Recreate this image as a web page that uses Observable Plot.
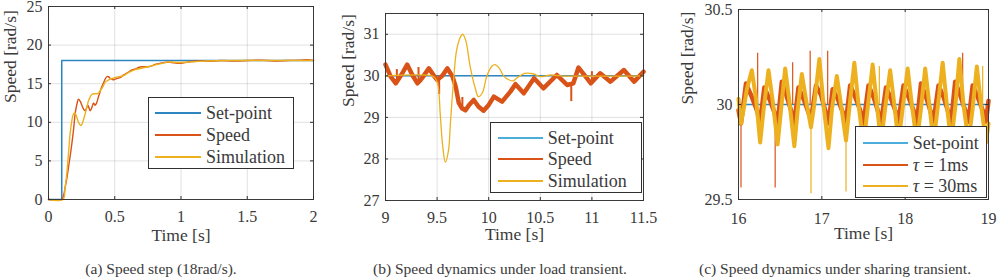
<!DOCTYPE html>
<html>
<head>
<meta charset="utf-8">
<script src="https://cdn.jsdelivr.net/npm/d3@7"></script>
<script src="https://cdn.jsdelivr.net/npm/@observablehq/plot@0.6"></script>
<style>
  html, body { margin: 0; padding: 0; background: #fff; }
  #fig { position: relative; width: 1002px; height: 278px; overflow: hidden;
         font-family: "Liberation Serif", "Times New Roman", serif; font-weight: normal; color: #3a3a3a; }
  .panel { position: absolute; top: 0; }
  .legend { position: absolute; background: #fff; border: 1px solid #303030; box-sizing: border-box; font-size: 18px; }
  .legend .row { position: absolute; left: 0; right: 0; height: 22px; }
  .legend .sw { position: absolute; height: 1.5px; top: 10px; }
  .legend .lb { position: absolute; line-height: 22px; top: 0; white-space: nowrap; }
  .caption { position: absolute; font-size: 15.5px; white-space: nowrap; transform: translate(-50%, -50%); }
</style>
</head>
<body>
<div id="fig"></div>
<script>
// ---------- (a) speed step to 18 rad/s ----------
const aXTicks = [0, 0.5, 1, 1.5, 2];
const aYTicks = [0, 5, 10, 15, 20, 25];
const aSetpoint = [[0, 0], [0.1, 0], [0.1, 18], [2, 18]];
const aSpeed = [
  [0, 0], [0.1, 0], [0.115, 0.6], [0.126, 1.6], [0.14, 2.9], [0.151, 4.2], [0.165, 5.8], [0.176, 7.2],
  [0.19, 9.2], [0.201, 11.1], [0.215, 12.4], [0.226, 13.0], [0.24, 12.7], [0.252, 12.2], [0.265, 11.7],
  [0.277, 11.5], [0.288, 11.9], [0.297, 12.2], [0.305, 11.9], [0.314, 11.5], [0.325, 11.8], [0.34, 12.5],
  [0.352, 12.2], [0.365, 12.6], [0.377, 13.3], [0.39, 14.0], [0.40, 14.5], [0.415, 15.1], [0.428, 15.6],
  [0.44, 15.9], [0.453, 15.9], [0.465, 15.7], [0.478, 15.6], [0.49, 15.5], [0.503, 15.6], [0.52, 15.7],
  [0.541, 15.8], [0.566, 16.1], [0.585, 16.3], [0.604, 16.5], [0.63, 16.8], [0.654, 16.9], [0.68, 17.1],
  [0.704, 17.2], [0.73, 17.2], [0.755, 17.2], [0.78, 17.3], [0.805, 17.5], [0.83, 17.6], [0.855, 17.7],
  [0.88, 17.75], [0.906, 17.8], [0.95, 17.7], [1.0, 17.65], [1.05, 17.8], [1.1, 17.9], [1.15, 17.95],
  [1.2, 17.9], [1.3, 18.0], [1.4, 17.95], [1.5, 18.0], [1.6, 18.05], [1.7, 17.95], [1.8, 18.0],
  [1.9, 18.05], [1.95, 18.1], [2.0, 18.0]
];
const aSimulation = [
  [0, 0], [0.11, 0], [0.125, 1.5], [0.138, 3.3], [0.15, 5.8], [0.163, 8.5], [0.176, 10.2], [0.189, 11.1],
  [0.2, 11.2], [0.213, 10.7], [0.226, 10.0], [0.237, 9.7], [0.247, 9.6], [0.26, 10.1], [0.277, 11.1],
  [0.29, 12.0], [0.302, 12.8], [0.315, 13.3], [0.327, 13.6], [0.345, 13.7], [0.365, 13.7], [0.378, 13.8],
  [0.39, 14.1], [0.41, 14.6], [0.428, 15.2], [0.445, 15.4], [0.465, 15.6], [0.485, 15.7], [0.503, 15.8],
  [0.53, 15.9], [0.56, 16.0], [0.6, 16.4], [0.65, 16.8], [0.7, 17.0], [0.75, 17.2], [0.8, 17.4],
  [0.85, 17.6], [0.9, 17.8], [1.0, 17.75], [1.1, 17.85], [1.2, 17.95], [1.4, 18.0], [1.6, 18.0],
  [1.8, 18.0], [2.0, 18.0]
];

// ---------- (b) load transient ----------
const bXTicks = [9, 9.5, 10, 10.5, 11, 11.5];
const bYTicks = [27, 28, 29, 30, 31];
const bSetpoint = [[9, 30], [11.5, 30]];
const bSpeed = [
  [9.0, 30.27], [9.05, 29.98], [9.1, 29.82], [9.16, 30.05], [9.21, 30.27], [9.26, 30.02], [9.31, 29.82],
  [9.34, 29.9], [9.37, 30.0], [9.42, 30.18], [9.47, 30.0], [9.5, 29.9], [9.55, 30.0], [9.6, 30.18],
  [9.65, 29.98], [9.68, 29.74], [9.71, 29.35], [9.74, 29.22], [9.775, 29.17], [9.81, 29.3], [9.855, 29.42],
  [9.9, 29.26], [9.95, 29.16], [10.0, 29.3], [10.05, 29.5], [10.13, 29.38], [10.21, 29.62], [10.26, 29.8],
  [10.34, 29.58], [10.44, 29.94], [10.53, 29.7], [10.66, 30.02], [10.76, 29.78], [10.82, 29.82],
  [10.87, 30.2], [10.94, 29.98], [10.99, 29.82], [11.08, 30.06], [11.18, 29.86], [11.31, 30.14],
  [11.41, 29.86], [11.5, 30.1]
];
const bSpeedSpikes = [
  [9.11, 29.85, 30.15], [9.32, 29.84, 30.2], [9.52, 29.92, 29.55],
  [9.745, 29.22, 29.48], [10.80, 29.8, 29.38], [11.0, 29.82, 30.1]
];
const bSimulation = [
  [9.0, 30], [9.45, 30], [9.48, 29.95], [9.51, 29.75], [9.53, 29.1], [9.555, 28.29], [9.58, 27.92],
  [9.61, 28.2], [9.63, 28.9], [9.66, 29.9], [9.69, 30.63], [9.73, 30.95], [9.75, 31.0], [9.78, 30.83],
  [9.82, 30.23], [9.87, 29.7], [9.9, 29.5], [9.94, 29.6], [9.98, 29.98], [10.03, 30.23], [10.06, 30.27],
  [10.1, 30.19], [10.15, 29.98], [10.2, 29.9], [10.24, 29.88], [10.27, 29.94], [10.35, 30.06],
  [10.43, 30.05], [10.5, 29.98], [10.6, 30.02], [10.7, 30.0], [11.5, 30.0]
];

// ---------- (c) sharing transient ----------
const cXTicks = [16, 17, 18, 19];
const cYTicks = [29.5, 30, 30.5];
const cSetpoint = [[16, 30], [19, 30]];
const cTau1 = [
  [16.00, 29.97], [16.03, 29.90], [16.09, 30.11], [16.16, 30.04], [16.22, 29.97], [16.26, 29.91],
  [16.31, 30.09], [16.37, 30.03], [16.43, 29.96], [16.47, 29.90], [16.52, 30.12], [16.58, 30.04],
  [16.63, 29.97], [16.67, 29.90], [16.72, 30.09], [16.78, 30.03], [16.83, 29.97], [16.87, 29.92],
  [16.93, 30.10], [16.99, 30.05], [17.04, 29.97], [17.08, 29.90], [17.13, 30.08], [17.19, 30.03],
  [17.25, 29.96], [17.29, 29.91], [17.34, 30.10], [17.40, 30.04], [17.46, 29.97], [17.50, 29.90],
  [17.56, 30.10], [17.62, 30.04], [17.67, 29.97], [17.71, 29.90], [17.77, 30.09], [17.83, 30.03],
  [17.88, 29.97], [17.92, 29.91], [17.98, 30.10], [18.04, 30.04], [18.10, 29.97], [18.14, 29.90],
  [18.19, 30.11], [18.25, 30.04], [18.30, 29.97], [18.34, 29.91], [18.40, 30.10], [18.46, 30.04],
  [18.51, 29.97], [18.55, 29.90], [18.60, 30.12], [18.66, 30.05], [18.72, 29.97], [18.76, 29.91],
  [18.81, 30.10], [18.87, 30.04], [18.93, 29.97], [18.97, 29.91], [19.00, 30.02]
];
const cTau1Spikes = [
  [16.03, 29.95, 29.56], [16.23, 30.0, 30.27], [16.44, 29.95, 29.56], [16.65, 30.0, 30.22],
  [16.86, 30.0, 30.28], [17.07, 30.0, 30.28], [18.69, 30.0, 30.27]
];
const cTau30 = [
  [16.00, 30.03], [16.03, 29.90], [16.06, 29.97], [16.10, 30.08], [16.16, 30.18], [16.21, 30.03],
  [16.26, 29.80], [16.30, 29.97], [16.36, 30.18], [16.41, 30.02], [16.47, 29.79], [16.51, 29.97],
  [16.56, 30.19], [16.61, 30.02], [16.67, 29.78], [16.71, 29.97], [16.76, 30.16], [16.82, 30.0],
  [16.87, 29.88], [16.91, 30.0], [16.97, 30.24], [17.02, 30.0], [17.08, 29.77], [17.12, 29.97],
  [17.18, 30.15], [17.23, 30.0], [17.29, 29.81], [17.33, 29.98], [17.39, 30.22], [17.44, 30.0],
  [17.50, 29.79], [17.55, 29.98], [17.61, 30.21], [17.66, 30.0], [17.71, 29.80], [17.76, 29.98],
  [17.82, 30.18], [17.87, 30.0], [17.92, 29.80], [17.97, 29.98], [18.03, 30.19], [18.08, 30.0],
  [18.14, 29.80], [18.19, 29.98], [18.24, 30.19], [18.29, 30.0], [18.34, 29.80], [18.39, 29.98],
  [18.45, 30.22], [18.50, 30.0], [18.55, 29.80], [18.60, 29.98], [18.65, 30.24], [18.70, 30.0],
  [18.76, 29.80], [18.81, 29.98], [18.86, 30.20], [18.91, 30.0], [18.97, 29.80], [19.00, 29.90]
];
const cTau30Spikes = [
  [16.87, 29.9, 29.53], [17.29, 29.85, 29.54], [17.69, 30.0, 30.2], [18.93, 30.0, 30.2]
];

const FONT = '"Liberation Serif", "Times New Roman", serif';
const BLUE = "#2E86C1", LIGHTBLUE = "#4DAEDB", ORANGE = "#D95319", GOLD = "#EDB120";
const INK = "#303030", TEXT = "#3a3a3a";
const tx = d => d[0], ty = d => d[1];
const fmt = d => String(d);

function axes({w, h, xTicks, yTicks, xPad, xLabelDy, yLabelDx}) {
  const txt = {fontFamily: FONT, fontWeight: "normal", fill: TEXT};
  return [
    Plot.frame({stroke: "#3a3a3a", strokeWidth: 1}),
    Plot.tickX(xTicks, {x: d => d, insetTop: h - 3, stroke: INK}),
    Plot.tickX(xTicks, {x: d => d, insetBottom: h - 3, stroke: INK}),
    Plot.tickY(yTicks, {y: d => d, insetRight: w - 3, stroke: INK}),
    Plot.tickY(yTicks, {y: d => d, insetLeft: w - 3, stroke: INK}),
    Plot.axisX({ticks: xTicks, tickFormat: fmt, tickSize: 0, tickPadding: xPad, label: null, fontSize: 16, fontVariant: "normal", ...txt}),
    Plot.axisY({ticks: yTicks, tickFormat: fmt, tickSize: 0, tickPadding: 6, label: null, fontSize: 16, fontVariant: "normal", ...txt}),
    Plot.text(["Time [s]"], {text: d => d, frameAnchor: "bottom", dy: xLabelDy, fontSize: 17.5, ...txt}),
    Plot.text(["Speed [rad/s]"], {text: d => d, frameAnchor: "left", rotate: -90, dx: yLabelDx, fontSize: 17.5, ...txt})
  ];
}

function panel(cfg) {
  const {left, width, height, mt, mr, mb, ml, xDomain, yDomain, xTicks, yTicks, marks} = cfg;
  const w = width - ml - mr, h = height - mt - mb;
  const svg = Plot.plot({
    width, height, marginTop: mt, marginRight: mr, marginBottom: mb, marginLeft: ml,
    x: {domain: xDomain}, y: {domain: yDomain},
    style: {fontFamily: FONT, fontSize: "16px", color: TEXT, background: "transparent", overflow: "visible"},
    marks: [
      Plot.gridX({ticks: xTicks, stroke: "#000", strokeOpacity: 0.12}),
      Plot.gridY({ticks: yTicks, stroke: "#000", strokeOpacity: 0.12}),
      ...marks,
      ...axes({w, h, xTicks, yTicks, xPad: cfg.xPad, xLabelDy: cfg.xLabelDy, yLabelDx: cfg.yLabelDx})
    ]
  });
  svg.setAttribute("font-family", FONT);
  const div = document.createElement("div");
  div.className = "panel";
  div.style.left = left + "px";
  div.appendChild(svg);
  document.getElementById("fig").appendChild(div);
}

function legend({left, top, width, height, rows, swLeft, swWidth, textLeft, items}) {
  const box = document.createElement("div");
  box.className = "legend";
  Object.assign(box.style, {left: left + "px", top: top + "px", width: width + "px", height: height + "px"});
  items.forEach((it, i) => {
    const row = document.createElement("div");
    row.className = "row";
    row.style.top = Math.round(rows[i] - 11) + "px";
    const sw = document.createElement("div");
    sw.className = "sw";
    Object.assign(sw.style, {left: swLeft + "px", width: swWidth + "px", background: it.color});
    const lb = document.createElement("span");
    lb.className = "lb";
    lb.style.left = textLeft + "px";
    lb.innerHTML = it.label;
    row.append(sw, lb);
    box.appendChild(row);
  });
  document.getElementById("fig").appendChild(box);
}

function caption(text, cx, cy) {
  const c = document.createElement("div");
  c.className = "caption";
  Object.assign(c.style, {left: cx + "px", top: cy + "px"});
  c.textContent = text;
  document.getElementById("fig").appendChild(c);
}

// (a)
panel({
  left: 0, width: 322, height: 255, mt: 6, mr: 9, mb: 56, ml: 48,
  xDomain: [0, 2], yDomain: [0, 25], xTicks: aXTicks, yTicks: aYTicks,
  xPad: 11.5, xLabelDy: 41, yLabelDx: -38,
  marks: [
    Plot.line(aSetpoint, {x: tx, y: ty, stroke: BLUE, strokeWidth: 1.5}),
    Plot.line(aSpeed, {x: tx, y: ty, stroke: ORANGE, strokeWidth: 1.4, curve: "catmull-rom"}),
    Plot.line(aSimulation, {x: tx, y: ty, stroke: GOLD, strokeWidth: 1.4, curve: "catmull-rom"})
  ]
});
legend({
  left: 148, top: 97, width: 146, height: 72, rows: [14.7, 37.3, 59], swLeft: 6, swWidth: 46, textLeft: 57,
  items: [{label: "Set-point", color: BLUE}, {label: "Speed", color: ORANGE}, {label: "Simulation", color: GOLD}]
});
caption("(a) Speed step (18rad/s).", 161, 269);

// (b)
panel({
  left: 330, width: 330, height: 255, mt: 13, mr: 17, mb: 55, ml: 55,
  xDomain: [9, 11.5], yDomain: [27, 31.5], xTicks: bXTicks, yTicks: bYTicks,
  xPad: 10.7, xLabelDy: 39.5, yLabelDx: -37,
  marks: [
    Plot.line(bSetpoint, {x: tx, y: ty, stroke: BLUE, strokeWidth: 1.5}),
    Plot.line(bSpeed, {x: tx, y: ty, stroke: ORANGE, strokeWidth: 4.5, strokeLinejoin: "round"}),
    Plot.ruleX(bSpeedSpikes, {x: d => d[0], y1: d => d[1], y2: d => d[2], stroke: ORANGE, strokeWidth: 2}),
    Plot.line(bSimulation, {x: tx, y: ty, stroke: GOLD, strokeWidth: 1.3, curve: "catmull-rom"})
  ]
});
legend({
  left: 490, top: 122, width: 152, height: 71, rows: [14.7, 36.3, 58], swLeft: 6.7, swWidth: 45, textLeft: 56.7,
  items: [{label: "Set-point", color: LIGHTBLUE}, {label: "Speed", color: ORANGE}, {label: "Simulation", color: GOLD}]
});
caption("(b) Speed dynamics under load transient.", 500, 269);

// (c)
panel({
  left: 660, width: 342, height: 255, mt: 9, mr: 14, mb: 56, ml: 78,
  xDomain: [16, 19], yDomain: [29.5, 30.5], xTicks: cXTicks, yTicks: cYTicks,
  xPad: 13.3, xLabelDy: 39.5, yLabelDx: -51,
  marks: [
    Plot.line(cSetpoint, {x: tx, y: ty, stroke: BLUE, strokeWidth: 1.5}),
    Plot.line(cTau1, {x: tx, y: ty, stroke: ORANGE, strokeWidth: 4.5, strokeLinejoin: "round"}),
    Plot.ruleX(cTau1Spikes, {x: d => d[0], y1: d => d[1], y2: d => d[2], stroke: ORANGE, strokeWidth: 1.2}),
    Plot.line(cTau30, {x: tx, y: ty, stroke: GOLD, strokeWidth: 4, strokeLinejoin: "round"}),
    Plot.ruleX(cTau30Spikes, {x: d => d[0], y1: d => d[1], y2: d => d[2], stroke: GOLD, strokeWidth: 1.2})
  ]
});
legend({
  left: 855, top: 126, width: 132, height: 72, rows: [15.7, 38, 59], swLeft: 6.7, swWidth: 45, textLeft: 56.7,
  items: [
    {label: "Set-point", color: LIGHTBLUE},
    {label: "<i>τ</i> = 1ms", color: ORANGE},
    {label: "<i>τ</i> = 30ms", color: GOLD}
  ]
});
caption("(c) Speed dynamics under sharing transient.", 835, 269);
</script>
</body>
</html>
